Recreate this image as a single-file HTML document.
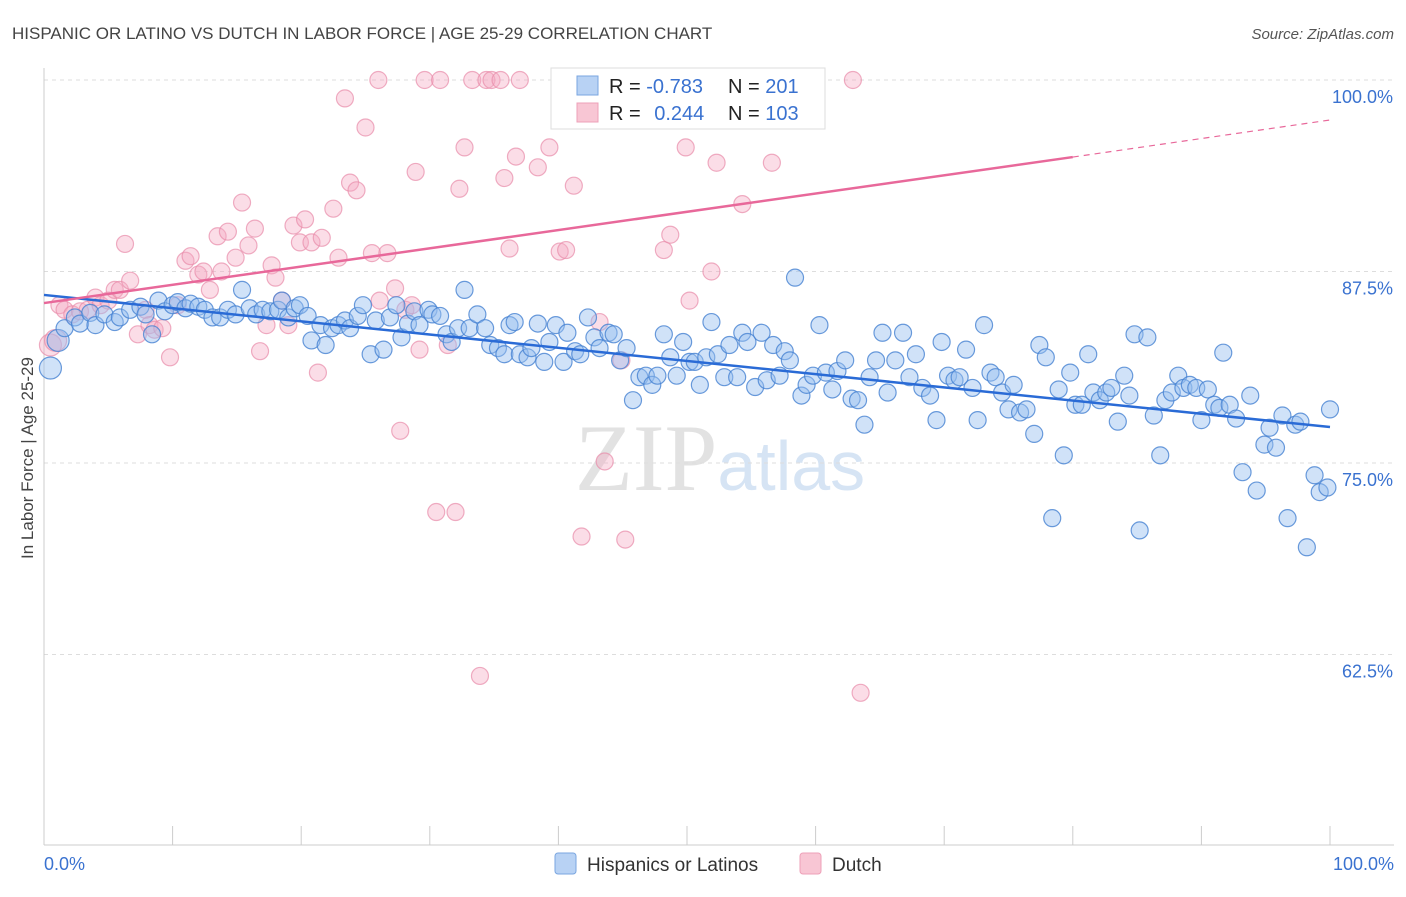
<!DOCTYPE html>
<html><head><meta charset="utf-8"><style>
body{margin:0;background:#fff;font-family:"Liberation Sans",sans-serif;}
svg text{font-family:"Liberation Sans",sans-serif;}
</style></head><body>
<svg id="chart" width="1406" height="892" viewBox="0 0 1406 892">
<text x="12" y="39" font-size="17" fill="#444">HISPANIC OR LATINO VS DUTCH IN LABOR FORCE | AGE 25-29 CORRELATION CHART</text>
<text x="1394" y="39" font-size="15" fill="#555" text-anchor="end" font-style="italic">Source: ZipAtlas.com</text>
<text x="720" y="490" font-size="95" text-anchor="middle"><tspan fill="#e2e2e2" font-family="Liberation Serif">ZIP</tspan><tspan fill="#d6e4f4" font-size="70">atlas</tspan></text>
<g id="grid"></g>
<g id="axes"></g>
<g id="pts"></g>
<g id="lines"></g>
<text transform="translate(33,458) rotate(-90)" font-size="17" fill="#444" text-anchor="middle">In Labor Force | Age 25-29</text>
<g>
<rect x="551" y="68" width="274" height="61" fill="#fff" stroke="#ddd"/>
<rect x="577" y="76" width="21" height="19" fill="#b8d2f4" stroke="#7aa6e0"/>
<rect x="577" y="103" width="21" height="19" fill="#f8c6d4" stroke="#eea0b8"/>
<text x="609" y="93" font-size="20" fill="#222">R = <tspan fill="#3a72d0">-0.783</tspan></text>
<text x="728" y="93" font-size="20" fill="#222">N = <tspan fill="#3a72d0">201</tspan></text>
<text x="609" y="120" font-size="20" fill="#222">R = <tspan fill="#3a72d0" dx="8">0.244</tspan></text>
<text x="728" y="120" font-size="20" fill="#222">N = <tspan fill="#3a72d0">103</tspan></text>
</g>
<g>
<rect x="555" y="853" width="21" height="21" rx="3" fill="#b8d2f4" stroke="#7aa6e0"/>
<text x="587" y="871" font-size="19" fill="#333">Hispanics or Latinos</text>
<rect x="800" y="853" width="21" height="21" rx="3" fill="#f8c6d4" stroke="#eea0b8"/>
<text x="832" y="871" font-size="19" fill="#333">Dutch</text>
</g>
</svg>
<script>
const yTicks=[100,87.5,75,62.5];
const yTickLabels=["100.0%","87.5%","75.0%","62.5%"];
const xTickLabels=["0.0%","100.0%"];
const blueX=[0.5,1.1,1.6,2.4,2.8,3.6,4.0,4.7,5.5,5.9,6.7,7.5,7.9,8.4,8.9,9.4,10.0,10.4,11.0,11.4,12.0,12.5,13.1,13.7,14.3,14.9,15.4,16.0,16.5,17.0,17.6,18.2,18.5,19.0,19.5,19.9,20.5,20.8,21.5,21.9,22.4,22.9,23.4,23.8,24.4,24.8,25.4,25.8,26.4,26.9,27.4,27.8,28.3,28.8,29.2,29.9,30.2,30.8,31.3,31.7,32.2,32.7,33.1,33.7,34.3,34.7,35.3,35.8,36.2,36.6,37.0,37.6,37.9,38.4,38.9,39.3,39.8,40.4,40.7,41.3,41.7,42.3,42.8,43.2,43.9,44.3,44.8,45.3,45.8,46.3,46.8,47.3,47.7,48.2,48.7,49.2,49.7,50.2,50.6,51.0,51.5,51.9,52.4,52.9,53.3,53.9,54.3,54.7,55.3,55.8,56.2,56.7,57.2,57.6,58.0,58.4,58.9,59.3,59.8,60.3,60.8,61.3,61.7,62.3,62.8,63.3,63.8,64.2,64.7,65.2,65.6,66.2,66.8,67.3,67.8,68.3,68.9,69.4,69.8,70.3,70.8,71.2,71.7,72.2,72.6,73.1,73.6,74.0,74.5,75.0,75.4,75.9,76.4,77.0,77.4,77.9,78.4,78.9,79.3,79.8,80.2,80.7,81.2,81.6,82.1,82.6,83.0,83.5,84.0,84.4,84.8,85.2,85.8,86.3,86.8,87.2,87.7,88.2,88.6,89.1,89.6,90.0,90.5,91.0,91.4,91.7,92.2,92.7,93.2,93.8,94.3,94.9,95.3,95.8,96.3,96.7,97.3,97.7,98.2,98.8,99.2,99.8,100];
const blueY=[81.2,83.0,83.8,84.5,84.1,84.8,84.0,84.7,84.2,84.5,85.0,85.2,84.7,83.4,85.6,84.9,85.3,85.5,85.1,85.4,85.2,85.0,84.5,84.5,85.0,84.7,86.3,85.1,84.7,85.0,84.9,85.0,85.6,84.5,85.1,85.3,84.6,83.0,84.0,82.7,83.8,84.0,84.3,83.8,84.6,85.3,82.1,84.3,82.4,84.5,85.3,83.2,84.1,84.9,84.0,85.0,84.7,84.6,83.4,82.9,83.8,86.3,83.8,84.7,83.8,82.7,82.5,82.1,84.0,84.2,82.1,81.9,82.5,84.1,81.6,82.9,84.0,81.6,83.5,82.3,82.1,84.5,83.2,82.5,83.5,83.4,81.7,82.5,79.1,80.6,80.7,80.1,80.7,83.4,81.9,80.7,82.9,81.6,81.6,80.1,81.9,84.2,82.1,80.6,82.7,80.6,83.5,82.9,79.96,83.5,80.4,82.7,80.7,82.3,81.7,87.1,79.4,80.1,80.7,84.0,80.9,79.8,81.0,81.7,79.2,79.1,77.5,80.6,81.7,83.5,79.6,81.7,83.5,80.6,82.1,79.9,79.4,77.8,82.9,80.7,80.4,80.6,82.4,79.9,77.8,84.0,80.9,80.6,79.6,78.5,80.1,78.3,78.5,76.9,82.7,81.9,71.4,79.8,75.5,80.9,78.8,78.8,82.1,79.6,79.1,79.6,79.9,77.7,80.7,79.4,83.4,70.6,83.2,78.1,75.5,79.1,79.6,80.7,79.9,80.1,79.9,77.8,79.8,78.8,78.6,82.2,78.8,77.9,74.4,79.4,73.2,76.2,77.3,76.0,78.1,71.4,77.5,77.7,69.5,74.2,73.1,73.4,78.5];
const pinkX=[0.5,0.9,1.2,1.6,2.2,2.8,3.4,4.0,4.4,5.0,5.5,5.9,6.3,6.7,7.3,7.9,8.2,8.6,9.2,9.8,10.4,11.0,11.4,12.0,12.4,12.9,13.5,13.8,14.3,14.9,15.4,15.9,16.4,16.8,17.3,17.7,18.0,18.5,19.0,19.4,19.9,20.3,20.8,21.3,21.6,22.5,22.9,23.4,23.8,24.3,25.0,25.5,26.0,26.1,26.7,27.3,27.7,28.1,28.6,28.9,29.2,29.6,30.5,30.8,31.4,32.0,32.3,32.7,33.3,33.9,34.4,34.8,35.5,35.8,36.2,36.7,37.0,38.4,39.3,40.1,40.6,41.2,41.8,43.2,43.6,44.0,44.9,45.2,46.0,48.2,48.7,49.9,50.2,51.9,52.3,52.6,52.9,54.3,56.6,58.8,62.9,63.5];
const pinkY=[82.7,83.0,85.3,85.0,84.7,84.9,85.0,85.8,85.3,85.6,86.3,86.3,89.3,86.9,83.4,85.0,84.0,83.7,83.8,81.9,85.3,88.2,88.5,87.3,87.5,86.3,89.8,87.5,90.1,88.4,92.0,89.2,90.3,82.3,84.0,87.9,87.1,85.6,84.0,90.5,89.4,90.9,89.4,80.9,89.7,91.6,88.4,98.8,93.3,92.8,96.9,88.7,100,85.6,88.7,86.4,77.1,85.0,85.3,94.0,82.4,100,71.8,100,82.7,71.8,92.9,95.6,100,61.1,100,100,100,93.6,89.0,95.0,100,94.3,95.6,88.8,88.9,93.1,70.2,84.2,75.1,100,81.7,70.0,100,88.9,89.9,95.6,85.6,87.5,94.6,100,100,91.9,94.6,100,100,60.0];
const blueTrend=[85.97,77.35];
const pinkTrend=[85.44,94.97,97.39];
const pinkTrendX=[0,80,100];
const NS="http://www.w3.org/2000/svg";
const X0=44,X1=1330,YTOP=80,PXPER=191.5/12.5;
function sx(v){return X0+(X1-X0)*v/100;}
function sy(v){return YTOP+(100-v)*PXPER;}
function mk(tag,attrs,parent){const e=document.createElementNS(NS,tag);for(const k in attrs)e.setAttribute(k,attrs[k]);parent.appendChild(e);return e;}
const grid=document.getElementById('grid'),axes=document.getElementById('axes'),pts=document.getElementById('pts'),lines=document.getElementById('lines');
yTicks.forEach((t,i)=>{
 const l=mk('line',{x1:44,x2:1394,y1:sy(t),y2:sy(t),stroke:'#ddd','stroke-dasharray':'4,4'},grid);
 
 
 const tx=mk('text',{x:1393,y:sy(t)+23,'font-size':18,fill:'#3a72d0','text-anchor':'end'},axes);
 tx.textContent=yTickLabels[i];
 
 
});
const ax=mk('line',{x1:44,x2:1394,y1:845,y2:845,stroke:'#ccc'},axes);


const ay=mk('line',{x1:44,x2:44,y1:68,y2:845,stroke:'#ccc'},axes);


for(let i=0;i<=10;i++){
 const tk=mk('line',{x1:sx(i*10),x2:sx(i*10),y1:826,y2:845,stroke:'#ccc'},axes);
 
 
}
[[0,'start',44],[1,'end',1394]].forEach(([i,a,x])=>{
 const t=mk('text',{x:x,y:870,'font-size':18,fill:'#3a72d0','text-anchor':a},axes);
 t.textContent=xTickLabels[i];
 
 
});
function dots(xs,ys,fill,stroke,name){
 xs.forEach((x,i)=>{
  const c=mk('circle',{cx:sx(x),cy:sy(ys[i]),r:i<2?11:8.5,fill:fill,stroke:stroke,'stroke-width':1.2},pts);
  
  
 });
}
dots(pinkX,pinkY,'rgba(244,170,195,0.4)','rgba(232,140,170,0.7)','dutch-point');
dots(blueX,blueY,'rgba(150,190,240,0.45)','rgba(70,130,210,0.8)','hispanic-point');
const bl=mk('line',{x1:sx(0),y1:sy(blueTrend[0]),x2:sx(100),y2:sy(blueTrend[1]),stroke:'#2a6bd6','stroke-width':2.5},lines);


const pl=mk('line',{x1:sx(pinkTrendX[0]),y1:sy(pinkTrend[0]),x2:sx(pinkTrendX[1]),y2:sy(pinkTrend[1]),stroke:'#e8689a','stroke-width':2.5},lines);


const pd=mk('line',{x1:sx(pinkTrendX[1]),y1:sy(pinkTrend[1]),x2:sx(pinkTrendX[2]),y2:sy(pinkTrend[2]),stroke:'#e8689a','stroke-width':1.2,'stroke-dasharray':'6,5'},lines);


</script>
</body></html>
